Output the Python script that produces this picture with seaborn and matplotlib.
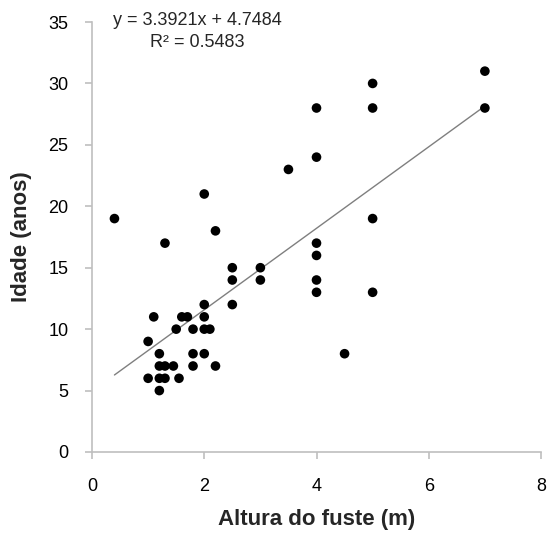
import matplotlib
matplotlib.use("Agg")
import matplotlib.pyplot as plt
import seaborn as sns
import pandas as pd

altura = [0.4, 1.3, 2.0, 2.2, 1.1, 1.6, 1.7, 2.0, 1.5, 1.8, 2.0, 2.1, 1.0,
          1.2, 1.8, 2.0, 1.2, 1.3, 1.45, 1.8, 2.2, 1.0, 1.2, 1.3, 1.55, 1.2,
          2.0, 2.5, 2.5, 2.5, 3.0, 3.0, 3.5, 4.0, 4.0, 4.0, 4.0, 4.0, 4.0,
          4.5, 5.0, 5.0, 5.0, 5.0, 7.0, 7.0]
idade = [19, 17, 21, 18, 11, 11, 11, 11, 10, 10, 10, 10, 9,
         8, 8, 8, 7, 7, 7, 7, 7, 6, 6, 6, 6, 5,
         12, 15, 14, 12, 15, 14, 23, 28, 24, 17, 16, 14, 13,
         8, 30, 28, 19, 13, 31, 28]

eq_text = "y = 3.3921x + 4.7484"
r2_text = "R² = 0.5483"
x_label = "Altura do fuste (m)"
y_label = "Idade (anos)"

df = pd.DataFrame({"altura": altura, "idade": idade})

sns.set_style("white")
plt.rcParams["font.family"] = ["Liberation Sans", "DejaVu Sans"]

fig = plt.figure(figsize=(5.47, 5.35), dpi=100)
ax = fig.add_axes([92/547, 1-452/535, (541-92)/547, (452-22)/535])

sns.regplot(data=df, x="altura", y="idade", ax=ax, ci=None, truncate=True,
            scatter_kws=dict(s=48, color="black", edgecolor="none", alpha=1, zorder=3),
            line_kws=dict(color="#7f7f7f", linewidth=1))

ax.set_xlim(0, 8)
ax.set_ylim(0, 35)
ax.set_xticks([0, 2, 4, 6, 8])
ax.set_yticks(range(0, 36, 5))
for s in ["top", "right"]:
    ax.spines[s].set_visible(False)
for s in ["left", "bottom"]:
    ax.spines[s].set_color("#bfbfbf")
    ax.spines[s].set_linewidth(1.2)
ax.tick_params(axis="both", direction="out", length=5, width=1.2,
               color="#bfbfbf", labelsize=13, labelcolor="black",
               bottom=True, left=True)
ax.tick_params(axis="y", pad=12)
ax.tick_params(axis="x", pad=14)
ax.set_xlabel(x_label, fontsize=16, fontweight="bold", labelpad=10)
ax.set_ylabel(y_label, fontsize=16, fontweight="bold", labelpad=12)

fig.text(197/547, 1-25/535, eq_text, fontsize=13, ha="center", va="baseline")
fig.text(197/547, 1-47/535, r2_text, fontsize=13, ha="center", va="baseline")

fig.savefig("out.png", dpi=100)
